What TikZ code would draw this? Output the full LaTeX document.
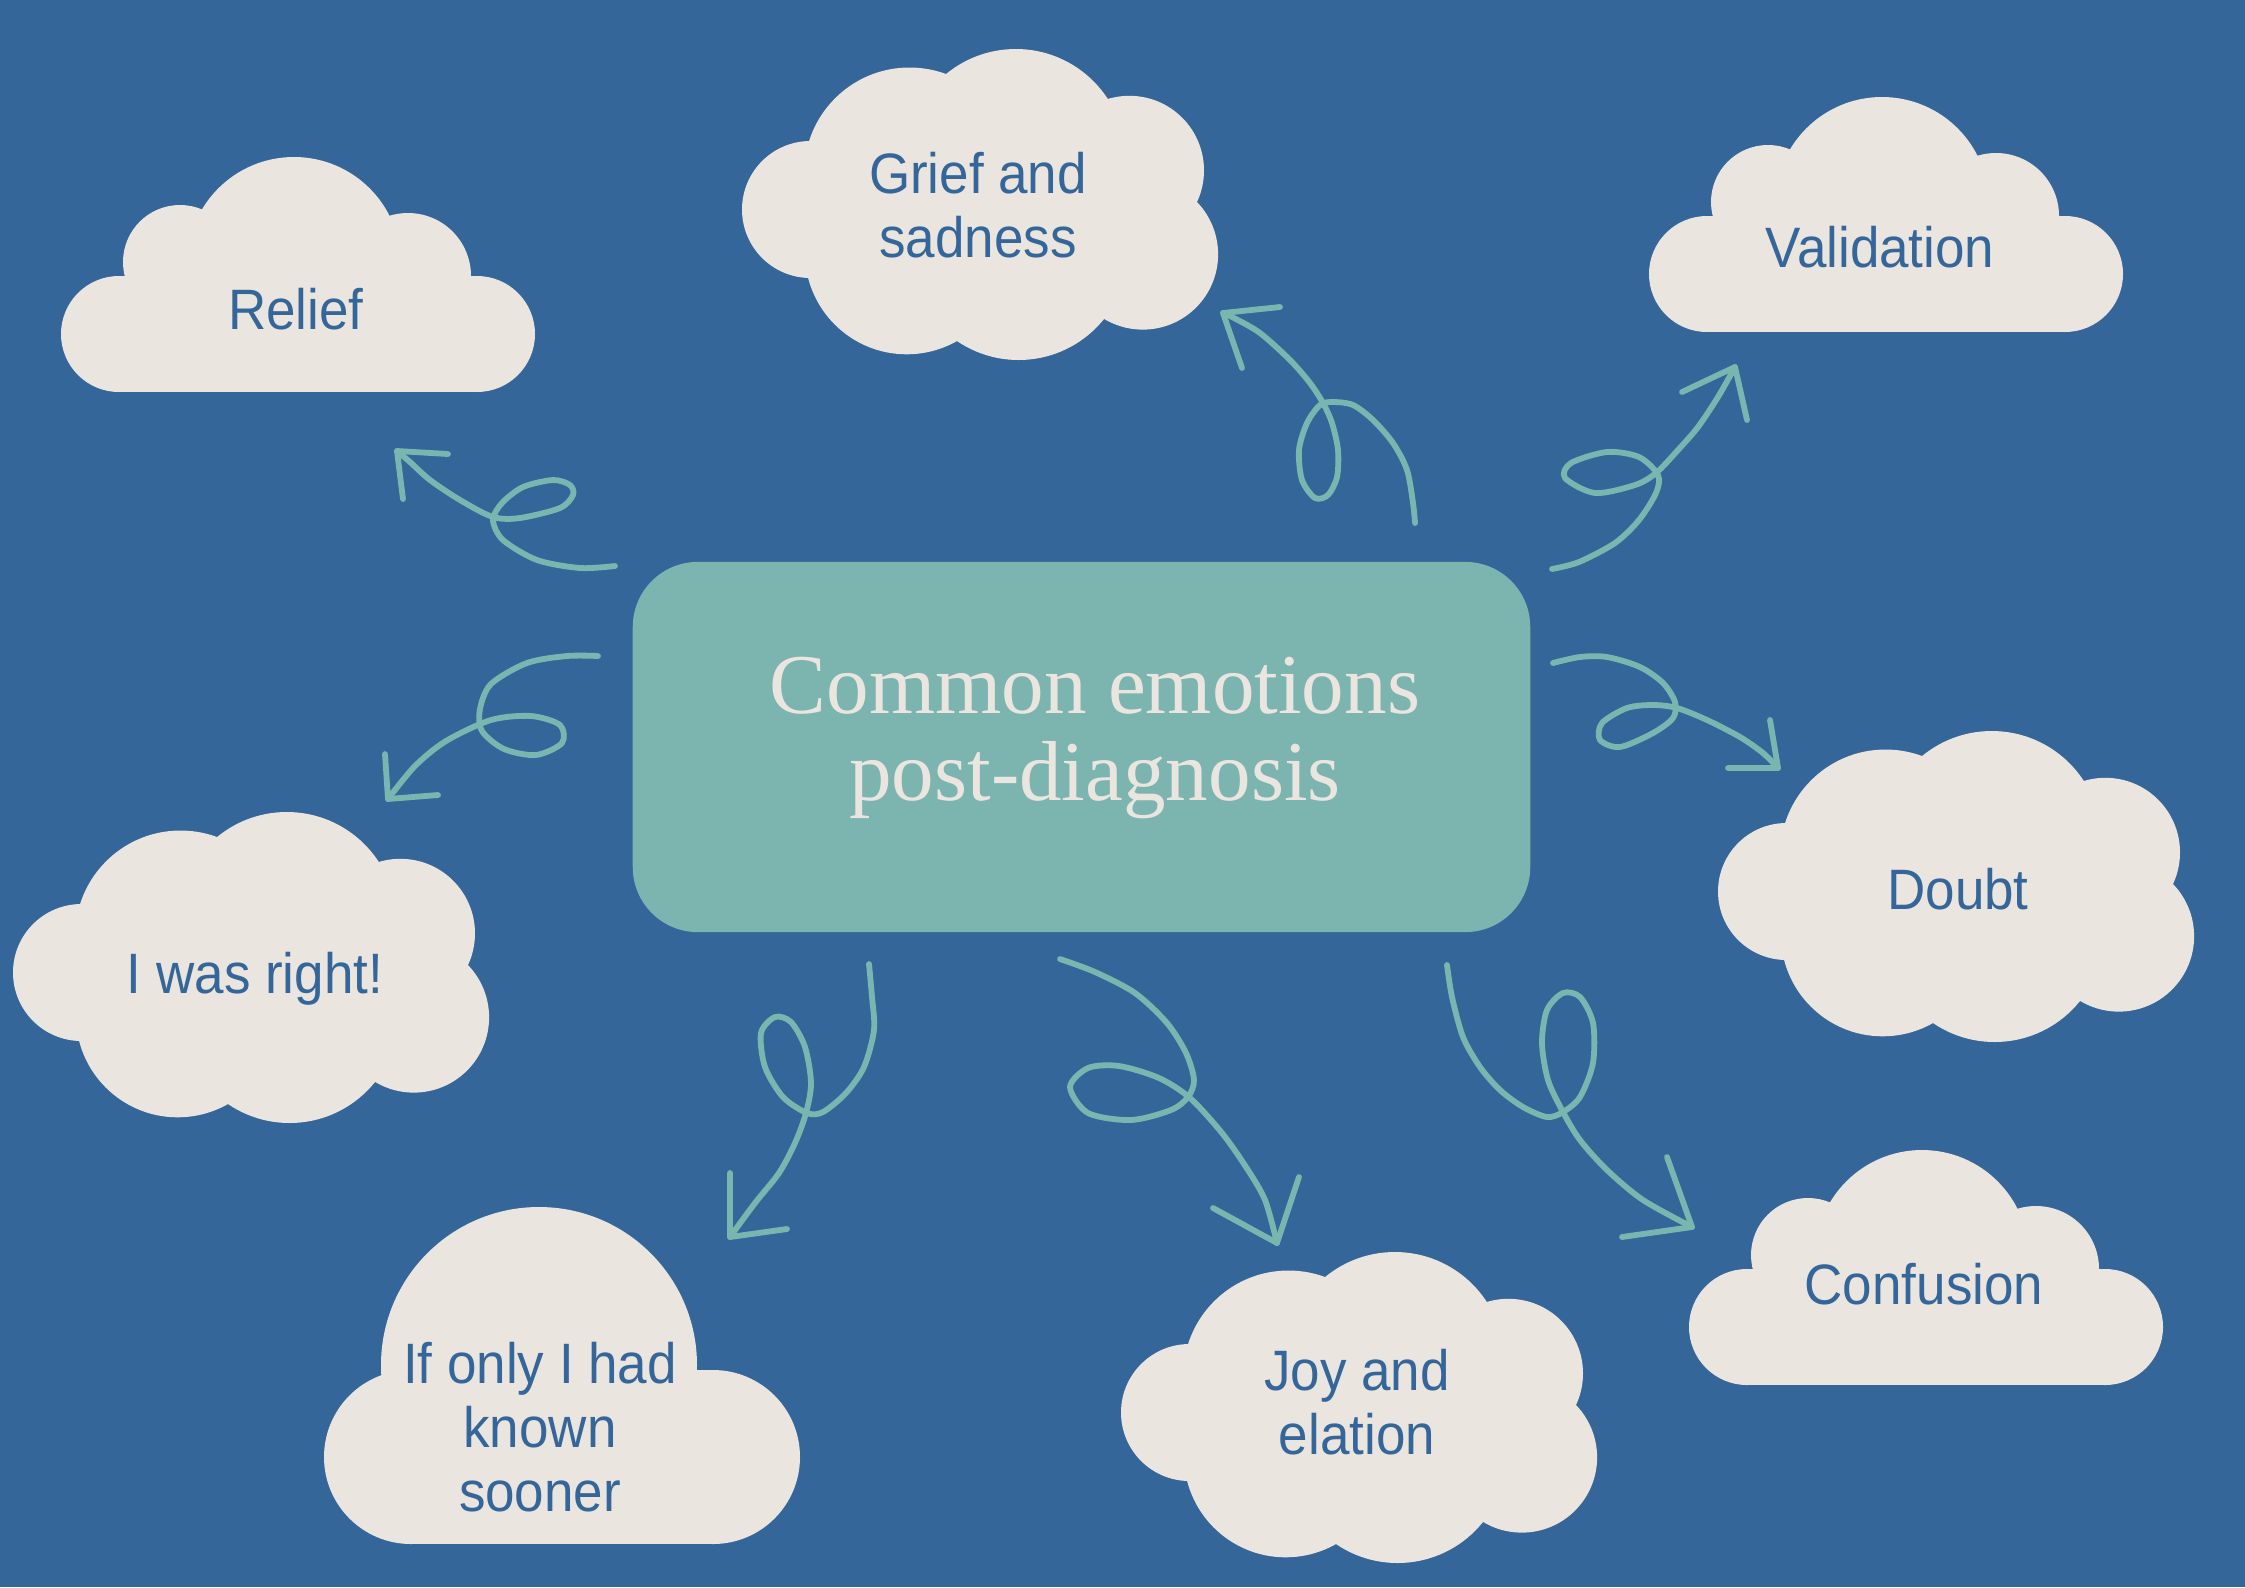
\documentclass[tikz,border=0pt]{standalone}
\usepackage{fontspec}
\setsansfont[FakeStretch=0.93]{Liberation Sans}
\newfontfamily\titlefont{Liberation Serif}
\definecolor{bgblue}{RGB}{53,102,154}
\definecolor{cloudfill}{RGB}{234,230,223}
\definecolor{boxteal}{RGB}{124,180,176}
\definecolor{arrowteal}{RGB}{122,182,176}
\definecolor{txtblue}{RGB}{53,102,154}
\newcommand\flatcloud[2]{%
  \begin{scope}[shift={(#1,#2)}]
    \fill[cloudfill] (60,177) circle[radius=58];
    \fill[cloudfill] (121,105) circle[radius=57];
    \fill[cloudfill] (235,107) circle[radius=107];
    \fill[cloudfill] (349,119) circle[radius=63];
    \fill[cloudfill] (418,177) circle[radius=58];
    \fill[cloudfill] (60,119) rectangle (418,235);
  \end{scope}}
\newcommand\puffycloud[2]{%
  \begin{scope}[shift={(#1,#2)}]
    \fill[cloudfill] (68.5,162.5) circle[radius=68.5];
    \fill[cloudfill] (167.5,125.8) circle[radius=105.3];
    \fill[cloudfill] (273.8,111.7) circle[radius=109.7];
    \fill[cloudfill] (387.4,123.4) circle[radius=74.6];
    \fill[cloudfill] (400.8,207.3) circle[radius=75.3];
    \fill[cloudfill] (276.6,203.6) circle[radius=109.4];
    \fill[cloudfill] (164.7,205.5) circle[radius=101.8];
    \fill[cloudfill] (67,94) -- (204,27) -- (366,52) -- (455,155) -- (362,272) -- (215,294) -- (66,231) -- cycle;
  \end{scope}}
\begin{document}
\begin{tikzpicture}[x=0.01cm,y=-0.01cm,
  cloudtext/.style={text=txtblue, font=\sffamily\fontsize{16.2}{18.2}\selectfont, align=center, anchor=base, inner sep=0pt},
  centerbox/.style={fill=boxteal, rounded corners=0.65cm, minimum width=8.97cm, minimum height=3.70cm, inner sep=0pt},
  centertext/.style={text=cloudfill, font=\titlefont\fontsize{24.2}{24.7}\selectfont, align=center, anchor=base, inner sep=0pt},
  swirl/.style={draw=arrowteal, line width=1.65pt, line cap=round, line join=round}]
\useasboundingbox (0,0) rectangle (2245,1587);
\fill[bgblue] (0,0) rectangle (2245,1587);

% clouds
\flatcloud{59}{157}
\flatcloud{1647}{97}
\flatcloud{1687}{1150}
\puffycloud{742}{47}
\puffycloud{13}{810}
\puffycloud{1718}{729}
\puffycloud{1121}{1250}
\fill[cloudfill] (539,1365) circle[radius=158];
\fill[cloudfill] (411,1457) circle[radius=87];
\fill[cloudfill] (713,1457) circle[radius=87];
\fill[cloudfill] (411,1370) rectangle (713,1544);

% cloud texts (base = baseline of last line)
\node[cloudtext] (relief) at (296,329) {Relief};
\node[cloudtext] (validation) at (1880,267) {Validation};
\node[cloudtext] (confusion) at (1924,1304) {Confusion};
\node[cloudtext] (grief) at (978,257) {Grief and\\sadness};
\node[cloudtext] (right) at (255,993) {I was right!};
\node[cloudtext] (doubt) at (1958,909) {Doubt};
\node[cloudtext] (joy) at (1357,1454) {Joy and\\elation};
\node[cloudtext] (ifonly) at (540,1511) {If only I had\\known\\sooner};

% center
\node[centerbox] (center) at (1081.5,747) {};
\node[centertext] (centertitle) at (1095,800) {Common emotions\\post-diagnosis};

% arrows
\coordinate (a1s) at (615,566); \coordinate (a1t) at (397,451);
\draw[swirl] plot[smooth] coordinates {(a1s) (580,568) (537,560) (503,540) (493,520) (502,503) (523,487) (553,480) (570,485) (573,495) (560,508) (520,518) (493,517) (460,500) (430,480) (410,462) (a1t)};
\draw[swirl] (448,454) -- (a1t) -- (403,499);

\coordinate (a2s) at (1415,523); \coordinate (a2t) at (1223,313);
\draw[swirl] plot[smooth] coordinates {(a2s) (1413,503) (1407,470) (1393,443) (1373,420) (1353,405) (1333,402) (1320,405) (1307,423) (1299,450) (1302,480) (1315,498) (1328,495) (1337,477) (1338,450) (1332,423) (1323,403) (1310,383) (1290,360) (1260,333) (1234,318) (a2t)};
\draw[swirl] (1280,307) -- (a2t) -- (1242,368);

\coordinate (a3s) at (1552,569); \coordinate (a3t) at (1735,367);
\draw[swirl] plot[smooth] coordinates {(a3s) (1579,562) (1615,543) (1639,520) (1656,493) (1658,475) (1639,457) (1607,452) (1571,463) (1565,478) (1595,493) (1635,485) (1656,473) (1678,450) (1698,427) (1718,397) (a3t)};
\draw[swirl] (1682,392) -- (a3t) -- (1747,420);

\coordinate (a4s) at (598,656); \coordinate (a4t) at (388,799);
\draw[swirl] plot[smooth] coordinates {(a4s) (567,656) (527,663) (491,684) (480,709) (482,731) (504,749) (536,755) (562,743) (560,725) (531,716) (491,720) (446,741) (415,766) (a4t)};
\draw[swirl] (438,795) -- (a4t) -- (385,754);

\coordinate (a5s) at (1553,663); \coordinate (a5t) at (1778,768);
\draw[swirl] plot[smooth] coordinates {(a5s) (1580,657) (1607,657) (1640,667) (1663,683) (1675,702) (1673,718) (1653,733) (1620,747) (1600,740) (1602,723) (1627,708) (1653,705) (1677,708) (1707,720) (1740,737) (1763,753) (a5t)};
\draw[swirl] (1728,768) -- (a5t) -- (1770,720);

\coordinate (a6s) at (869,964); \coordinate (a6t) at (730,1237);
\draw[swirl] plot[smooth] coordinates {(a6s) (872,997) (874,1030) (864,1067) (846,1093) (823,1112) (807,1113) (783,1097) (765,1067) (761,1033) (775,1017) (791,1022) (805,1047) (811,1083) (806,1113) (795,1143) (779,1173) (755,1203) (a6t)};
\draw[swirl] (787,1229) -- (a6t) -- (730,1173);

\coordinate (a7s) at (1060,959); \coordinate (a7t) at (1277,1243);
\draw[swirl] plot[smooth] coordinates {(a7s) (1095,972) (1135,993) (1167,1023) (1186,1053) (1194,1080) (1188,1097) (1171,1110) (1131,1120) (1088,1113) (1070,1087) (1088,1068) (1119,1066) (1159,1078) (1190,1098) (1222,1133) (1246,1167) (1265,1200) (a7t)};
\draw[swirl] (1213,1208) -- (a7t) -- (1299,1177);

\coordinate (a8s) at (1447,965); \coordinate (a8t) at (1692,1227);
\draw[swirl] plot[smooth] coordinates {(a8s) (1452,997) (1463,1037) (1480,1067) (1500,1090) (1523,1107) (1547,1117) (1563,1112) (1580,1097) (1593,1063) (1593,1023) (1580,997) (1563,993) (1547,1010) (1542,1043) (1548,1080) (1563,1112) (1580,1140) (1607,1170) (1643,1200) (a8t)};
\draw[swirl] (1622,1237) -- (a8t) -- (1667,1157);
\end{tikzpicture}
\end{document}
